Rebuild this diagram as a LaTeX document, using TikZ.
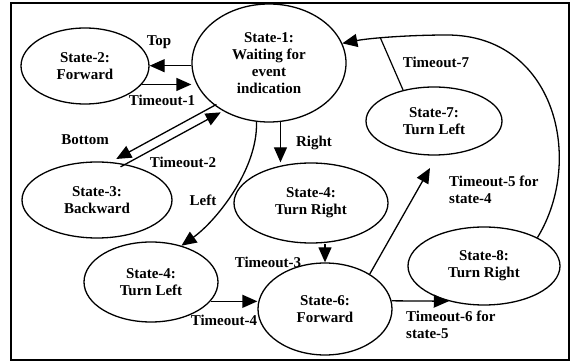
\documentclass[tikz,border=0pt]{standalone}
\usepackage{fontspec}
\setmainfont{Liberation Serif}
\usetikzlibrary{shapes.geometric,arrows.meta,calc}
\newcommand{\diagfont}{\fontsize{15}{17}\selectfont\bfseries}

\begin{document}
\begin{tikzpicture}[x=1pt,y=-1pt,
  state/.style={ellipse,draw,line width=1.3pt,inner sep=0pt,align=center,font=\diagfont},
  arr/.style={line width=1.3pt,-{Triangle[length=15pt,width=13pt]}},
  wire/.style={line width=1.2pt},
  lbl/.style={font=\diagfont,inner sep=0pt,align=left}]

\useasboundingbox (0,0) rectangle (579,363);
\draw[line width=1.6pt] (11,3) rectangle (569,360);

% states
\node[state,minimum width=154pt,minimum height=118pt] (s1) at (269,63) {State-1:\\Waiting for\\event\\indication};
\node[state,minimum width=128pt,minimum height=76pt] (s2) at (85,66) {State-2:\\Forward};
\node[state,minimum width=150pt,minimum height=76pt] (s3) at (97,200) {State-3:\\Backward};
\node[state,minimum width=154pt,minimum height=80pt] (s4r) at (311,203) {State-4:\\Turn Right};
\node[state,minimum width=134pt,minimum height=80pt] (s4l) at (151,282) {State-4:\\Turn Left};
\node[state,minimum width=134pt,minimum height=92pt] (s6) at (325,309) {State-6:\\Forward};
\node[state,minimum width=136pt,minimum height=68pt] (s7) at (434,121) {State-7:\\Turn Left};
\node[state,minimum width=152pt,minimum height=78pt] (s8) at (484,266) {State-8:\\Turn Right};

% transitions
\draw[arr] (s1.182) -- (s1.182 -| s2.east);
\draw[arr] (s2.342) -- (s2.342 -| s1.west);
\draw[arr] ($(s1.222)!4.5pt!-90:(s3.60)$) -- ($(s3.60)!4.5pt!90:(s1.222)$);
\draw[arr] ($(s3.60)!4.5pt!-90:(s1.222)$) -- ($(s1.222)!4.5pt!90:(s3.60)$);
\draw[arr] (s1.281) -- (s1.281 |- s4r.north);
\draw[arr] (s1.258) .. controls (258,170) and (215,222) .. (s4l.50);
\draw[arr] (s6.north |- s4r.south) -- (s6.north);
\draw[arr] (s4l.342) -- (s4l.342 -| s6.west);
\draw[arr] (s6.7) -- (s8.225);
\coordinate (t5) at (430,168);
\draw[arr] (s6.38) -- (t5);
\draw[arr] (s8.28) .. controls (585,160) and (555,35) .. (447,35)
  .. controls (410,35) and (370,38) .. coordinate[pos=0.6] (j7) (s1.15);
\draw[wire] (s7.135) -- (j7);

% labels
\node[lbl] (lt) at (159,42) {Top};
\node[lbl] (lt1) at (162,100) {Timeout-1};
\node[lbl] (lb) at (85,140) {Bottom};
\node[lbl] (lt2) at (183,162) {Timeout-2};
\node[lbl] (ll) at (203,200) {Left};
\node[lbl] (lr) at (314,143) {Right};
\node[lbl] (lt3) at (268,262) {Timeout-3};
\node[lbl] (lt4) at (224,320) {Timeout-4};
\node[lbl,anchor=north west] (lt5) at (449,176) {Timeout-5 for\\state-4};
\node[lbl,anchor=north west] (lt6) at (406,311) {Timeout-6 for\\state-5};
\node[lbl] (lt7) at (436,62) {Timeout-7};
\end{tikzpicture}
\end{document}
